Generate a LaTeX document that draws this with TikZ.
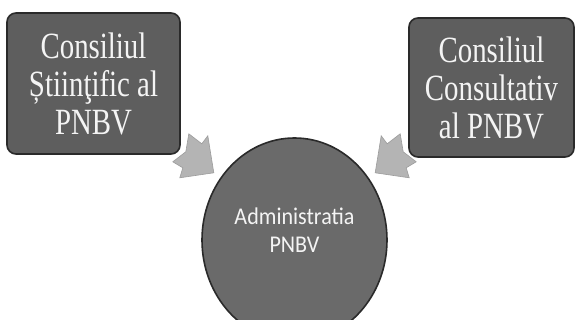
\documentclass[tikz,border=0pt]{standalone}
\usepackage{fontspec}
\usetikzlibrary{shapes.geometric}
\newfontfamily\boxfont[FakeStretch=0.78]{Liberation Serif}
\newfontfamily\circfont[FakeStretch=0.92]{Carlito}
\definecolor{boxfill}{HTML}{5E5E5E}
\definecolor{boxline}{HTML}{2A2A2A}
\definecolor{circfill}{HTML}{6A6A6A}
\definecolor{arrfill}{HTML}{B4B4B4}
\definecolor{arrline}{HTML}{9C9C9C}
\definecolor{txt}{HTML}{F4F4F4}
\begin{document}
\begin{tikzpicture}[x=1pt,y=-1pt,
  boxnode/.style={draw=boxline, line width=1.6pt, fill=boxfill, rounded corners=9pt,
    inner sep=0pt, align=center, text=txt,
    font=\boxfont\fontsize{37}{38}\selectfont},
  circnode/.style={ellipse, draw=boxline, line width=1.6pt, fill=circfill,
    minimum width=185pt, minimum height=204pt, inner sep=0pt},
  circtext/.style={align=center, text=txt, inner sep=0pt,
    font=\circfont\fontsize{24}{28}\selectfont},
  blockarrow/.style={fill=arrfill, draw=arrline, line width=0.6pt, line join=miter}]
\useasboundingbox (0,0) rectangle (576,320);
\clip (0,0) rectangle (576,320);
\fill[white] (0,0) rectangle (576,320);

\node[boxnode, minimum width=173pt, minimum height=141pt] (L) at (93.5,83.5)
  {Consiliul\\Știinţific al\\PNBV};
\node[boxnode, minimum width=165pt, minimum height=139pt] (R) at (491.5,87.5)
  {Consiliul\\Consultativ\\al PNBV};
\node[circnode] (C) at (294.5,240) {};
\node[circtext] (Ct) at ([yshift=10pt]C.center) {Administratia\\PNBV};

\begin{scope}[shift={(L.south east)}]
  \draw[blockarrow] (8,-21) -- (21,-11) -- (27,-19) -- (33,18) -- (-1,23)
    -- (2,13) -- (-8,7) -- (5,-3) -- cycle;
\end{scope}
\begin{scope}[shift={(R.south west)}]
  \draw[blockarrow] (-8,-24) -- (-21,-14) -- (-27,-22) -- (-33,15) -- (1,20)
    -- (-2,10) -- (8,4) -- (-5,-6) -- cycle;
\end{scope}
\end{tikzpicture}
\end{document}
